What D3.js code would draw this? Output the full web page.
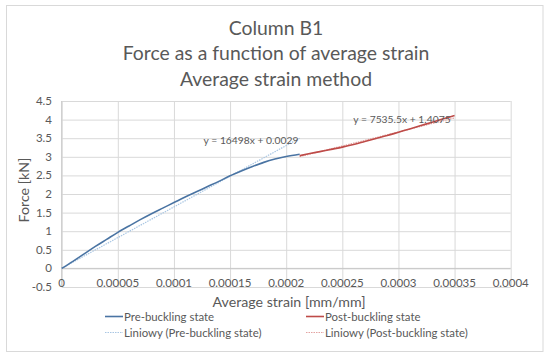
<!DOCTYPE html>
<html>
<head>
<meta charset="utf-8">
<script src="https://cdn.jsdelivr.net/npm/d3@7"></script>
<style>
  body { margin: 0; background: #fff; }
  svg { display: block; font-family: Lato, "Liberation Sans", sans-serif; }
</style>
</head>
<body>
<svg id="chart" width="550" height="357"></svg>
<script>
// Dados
const titulo = ["Column B1", "Force as a function of average strain", "Average strain method"];

// Pre-buckling (deformação media, força kN)
const preX = [0, 0.00001, 0.00002, 0.00003, 0.00004, 0.00005, 0.00006, 0.00007, 0.00008, 0.00009, 0.0001,
              0.00011, 0.00012, 0.00013, 0.00014, 0.00015, 0.00016, 0.00017, 0.00018, 0.00019, 0.0002, 0.000212];
const preY = [0, 0.19, 0.39, 0.59, 0.78, 0.97, 1.14, 1.31, 1.47, 1.62, 1.77,
              1.92, 2.06, 2.20, 2.34, 2.49, 2.62, 2.74, 2.85, 2.94, 3.01, 3.07];

// Post-buckling
const postX = [0.000212, 0.00022, 0.00023, 0.00024, 0.00025, 0.00026, 0.00027, 0.00028, 0.00029, 0.0003,
               0.00031, 0.00032, 0.00033, 0.00034, 0.00035];
const postY = [3.03, 3.08, 3.14, 3.20, 3.26, 3.33, 3.41, 3.49, 3.57, 3.66, 3.75, 3.84, 3.93, 4.02, 4.11];

// Linhas de tendência (coeficientes da figura)
const tendPre = { a: 16498, b: 0.0029, x0: 0, x1: 0.000212, rotulo: "y = 16498x + 0.0029" };
const tendPost = { a: 7535.5, b: 1.4075, x0: 0.000212, x1: 0.00035, rotulo: "y = 7535.5x + 1.4075" };

const xTicks = [0, 0.00005, 0.0001, 0.00015, 0.0002, 0.00025, 0.0003, 0.00035, 0.0004];
const xTickLabels = ["0", "0.00005", "0.0001", "0.00015", "0.0002", "0.00025", "0.0003", "0.00035", "0.0004"];
const yTicks = [-0.5, 0, 0.5, 1, 1.5, 2, 2.5, 3, 3.5, 4, 4.5];

const legenda = ["Pre-buckling state", "Post-buckling state", "Liniowy (Pre-buckling state)", "Liniowy (Post-buckling state)"];

const corPre = "#4a74a3";
const corPost = "#be4b48";
const corTendPre = "#a9c6e3";
const corTendPost = "#e3a3a1";
const cinza = "#595959";
const grade = "#d9d9d9";

const svg = d3.select("#chart");

// borda do gráfico
svg.append("rect")
    .attr("x", 6.5).attr("y", 5.5)
    .attr("width", 536.5).attr("height", 346)
    .attr("fill", "#fff")
    .attr("stroke", grade)
    .attr("stroke-width", 1);

const x = d3.scaleLinear().domain([0, 0.0004]).range([61.7, 510.7]);
const y = d3.scaleLinear().domain([-0.5, 4.5]).range([287, 101]);

// título
svg.append("g").selectAll("text")
    .data(titulo)
    .enter().append("text")
    .attr("x", 276)
    .attr("y", (d, i) => 34.5 + i * 25.5)
    .attr("text-anchor", "middle")
    .attr("font-size", 19.4)
    .attr("fill", cinza)
    .text(d => d);

// grade horizontal
svg.append("g")
    .attr("transform", `translate(${x(0)},0)`)
    .call(d3.axisLeft(y).tickValues(yTicks).tickSize(-(x(0.0004) - x(0))).tickFormat(""))
    .call(g => g.select(".domain").remove())
    .call(g => g.selectAll("line").attr("stroke", grade));

// grade vertical
svg.append("g")
    .attr("transform", `translate(0,${y(-0.5)})`)
    .call(d3.axisBottom(x).tickValues(xTicks).tickSize(-(y(-0.5) - y(4.5))).tickFormat(""))
    .call(g => g.select(".domain").remove())
    .call(g => g.selectAll("line").attr("stroke", grade));

// eixos (linhas em zero)
svg.append("line")
    .attr("x1", x(0)).attr("x2", x(0.0004))
    .attr("y1", y(0)).attr("y2", y(0))
    .attr("stroke", "#c8c8c8");
svg.append("line")
    .attr("x1", x(0)).attr("x2", x(0))
    .attr("y1", y(-0.5)).attr("y2", y(4.5))
    .attr("stroke", "#c8c8c8");

// rótulos do eixo y
svg.append("g").selectAll("text")
    .data(yTicks)
    .enter().append("text")
    .attr("x", 52)
    .attr("y", d => y(d))
    .attr("dy", "0.35em")
    .attr("text-anchor", "end")
    .attr("font-size", 11.5)
    .attr("fill", cinza)
    .text(d => d);

// rótulos do eixo x
svg.append("g").selectAll("text")
    .data(xTicks)
    .enter().append("text")
    .attr("x", d => x(d))
    .attr("y", 283)
    .attr("dy", "0.35em")
    .attr("text-anchor", "middle")
    .attr("font-size", 11.5)
    .attr("fill", cinza)
    .text((d, i) => xTickLabels[i]);

// títulos dos eixos
svg.append("text")
    .attr("x", 289).attr("y", 307)
    .attr("text-anchor", "middle")
    .attr("font-size", 14.2)
    .attr("fill", cinza)
    .text("Average strain [mm/mm]");

svg.append("text")
    .attr("transform", "translate(29,190) rotate(-90)")
    .attr("text-anchor", "middle")
    .attr("font-size", 14.2)
    .attr("fill", cinza)
    .text("Force [kN]");

// linhas de tendência
[[tendPre, corTendPre], [tendPost, corTendPost]].forEach(([t, cor]) => {
    svg.append("line")
        .attr("x1", x(t.x0)).attr("y1", y(t.a * t.x0 + t.b))
        .attr("x2", x(t.x1)).attr("y2", y(t.a * t.x1 + t.b))
        .attr("stroke", cor)
        .attr("stroke-width", 1.2)
        .attr("stroke-dasharray", "1.5,1");
});

// séries
const linha = d3.line().x(d => x(d[0])).y(d => y(d[1])).curve(d3.curveMonotoneX);

svg.append("path")
    .datum(d3.zip(preX, preY))
    .attr("fill", "none")
    .attr("stroke", corPre)
    .attr("stroke-width", 1.6)
    .attr("d", linha);

svg.append("path")
    .datum(d3.zip(postX, postY))
    .attr("fill", "none")
    .attr("stroke", corPost)
    .attr("stroke-width", 1.6)
    .attr("d", linha);

// equações
svg.append("text")
    .attr("x", 251).attr("y", 140)
    .attr("dy", "0.35em")
    .attr("text-anchor", "middle")
    .attr("font-size", 10.3)
    .attr("fill", cinza)
    .text(tendPre.rotulo);

svg.append("text")
    .attr("x", 402).attr("y", 119)
    .attr("dy", "0.35em")
    .attr("text-anchor", "middle")
    .attr("font-size", 10.3)
    .attr("fill", cinza)
    .text(tendPost.rotulo);

// legenda
const legPos = [[105, 316.5], [306, 316.5], [105, 332.5], [306, 332.5]];
const legCor = [corPre, corPost, corTendPre, corTendPost];
const leg = svg.append("g").selectAll("g")
    .data(legenda)
    .enter().append("g")
    .attr("transform", (d, i) => `translate(${legPos[i][0]},${legPos[i][1]})`);

leg.append("line")
    .attr("x1", 0).attr("x2", 18)
    .attr("y1", 0).attr("y2", 0)
    .attr("stroke", (d, i) => legCor[i])
    .attr("stroke-width", (d, i) => i < 2 ? 1.6 : 1.2)
    .attr("stroke-dasharray", (d, i) => i < 2 ? null : "1.5,1");

leg.append("text")
    .attr("x", 19)
    .attr("dy", "0.35em")
    .attr("font-size", 11.4)
    .attr("fill", cinza)
    .text(d => d);
</script>
</body>
</html>
